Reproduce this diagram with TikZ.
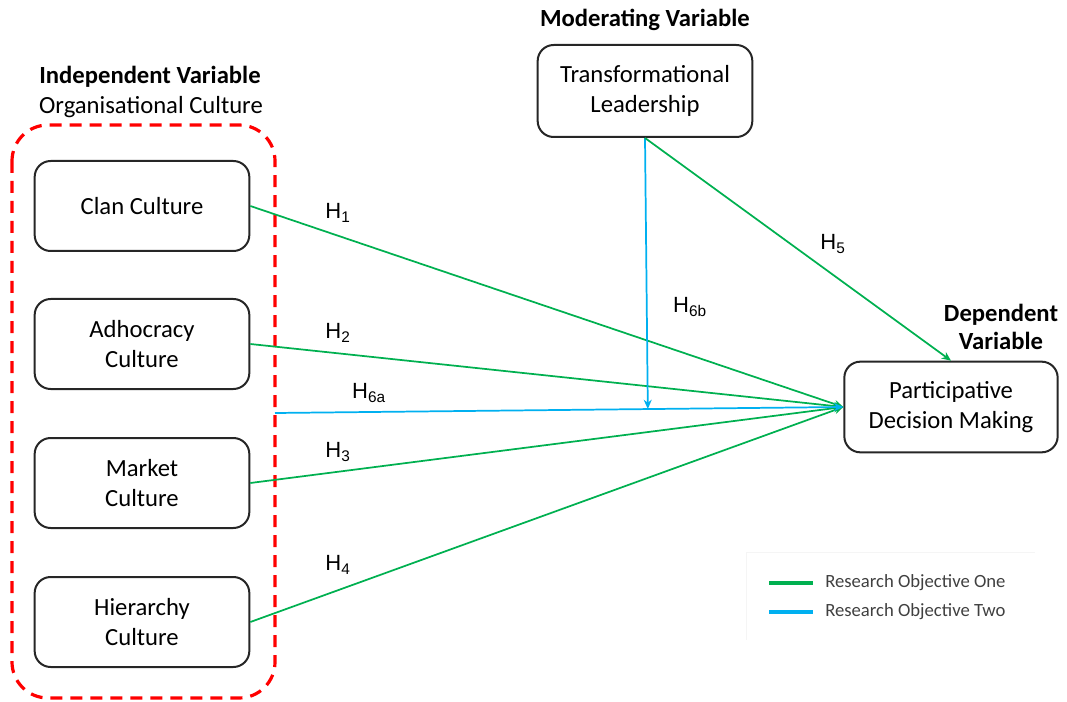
\documentclass[tikz,border=0pt]{standalone}
\usepackage{fontspec}
\setmainfont{Carlito}
\newfontfamily\hfont{Liberation Sans}
\usetikzlibrary{arrows.meta,calc}
\definecolor{rogreen}{RGB}{0,176,80}
\definecolor{roblue}{RGB}{0,176,240}
\definecolor{legtext}{RGB}{64,64,64}
\begin{document}
\begin{tikzpicture}[x=0.75pt,y=-0.75pt,
  varbox/.style={draw=black!85,line width=1.5pt,rounded corners=12pt,align=center,
    font=\fontsize{18.5}{22.5}\selectfont,inner sep=0pt},
  headtext/.style={font=\fontsize{18.5}{22}\selectfont\bfseries,align=center,inner sep=0pt},
  plaintext/.style={font=\fontsize{18.5}{22}\selectfont,inner sep=0pt},
  hlabel/.style={font=\hfont\fontsize{16.5}{18}\selectfont,inner sep=0pt},
  objone/.style={draw=rogreen,line width=1.3pt,-{Stealth[length=7pt,width=6pt]}},
  objtwo/.style={draw=roblue,line width=1.3pt,-{Stealth[length=7pt,width=6pt]}},
  legtxt/.style={font=\fontsize{14}{16}\selectfont,text=legtext,anchor=west,inner sep=0pt}]
\useasboundingbox (0,0) rectangle (1067,702);

% group outline around the culture types
\draw[red,line width=2.4pt,dash pattern=on 9pt off 6pt,rounded corners=27pt]
  (12,125) rectangle (275,698);

% headings
\node[headtext] (indep) at (150,77) {Independent Variable};
\node[plaintext] (orgcult) at (151,107) {Organisational Culture};
\node[headtext] (moder) at (645,20) {Moderating Variable};
\node[headtext,font=\fontsize{18.5}{21.5}\selectfont\bfseries] (dep) at (1001,327) {Dependent\\Variable};

% variables
\node[varbox,minimum width=161pt,minimum height=67.5pt] (clan) at (142,206) {Clan Culture};
\node[varbox,minimum width=161pt,minimum height=67.5pt] (adho) at (142,344) {Adhocracy\\Culture};
\node[varbox,minimum width=161pt,minimum height=67.5pt] (market) at (142,483) {Market\\Culture};
\node[varbox,minimum width=161pt,minimum height=67.5pt] (hier) at (142,622) {Hierarchy\\Culture};
\node[varbox,minimum width=161pt,minimum height=69pt] (tl) at (645,91) {Transformational\\Leadership};
\node[varbox,minimum width=160pt,minimum height=68pt] (pdm) at (951,407) {Participative\\Decision Making};

% hypothesised paths
\coordinate (h6astart) at (275,413);
\coordinate (modpt) at ($(h6astart)!(tl.south)!(pdm.west)$);
\draw[objone] (clan.east) -- (pdm.west);
\draw[objone] (adho.east) -- (pdm.west);
\draw[objone] (market.east) -- (pdm.west);
\draw[objone] (hier.east) -- (pdm.west);
\draw[objtwo] (h6astart) -- (pdm.west);
\draw[objtwo] (tl.south) -- (modpt);
\draw[objone] (tl.south) -- (pdm.north);

% hypothesis labels
\node[hlabel] (h1) at (338,213) {H\textsubscript{1}};
\node[hlabel] (h2) at (338,333) {H\textsubscript{2}};
\node[hlabel] (h6a) at (369,393) {H\textsubscript{6a}};
\node[hlabel] (h3) at (338,452) {H\textsubscript{3}};
\node[hlabel] (h4) at (338,565) {H\textsubscript{4}};
\node[hlabel] (h5) at (833,244) {H\textsubscript{5}};
\node[hlabel] (h6b) at (690,307) {H\textsubscript{6b}};

% legend
\draw[black!4,line width=0.6pt] (746,640) -- (746,552) -- (1035,552);
\coordinate (g1) at (769,583);
\coordinate (g2) at (813,583);
\coordinate (b1) at (769,612);
\coordinate (b2) at (813,612);
\draw[rogreen,line width=2.6pt] (g1) -- (g2);
\draw[roblue,line width=2.6pt] (b1) -- (b2);
\node[legtxt] (leg1) at (825,583) {Research Objective One};
\node[legtxt] (leg2) at (825,612) {Research Objective Two};
\end{tikzpicture}
\end{document}
